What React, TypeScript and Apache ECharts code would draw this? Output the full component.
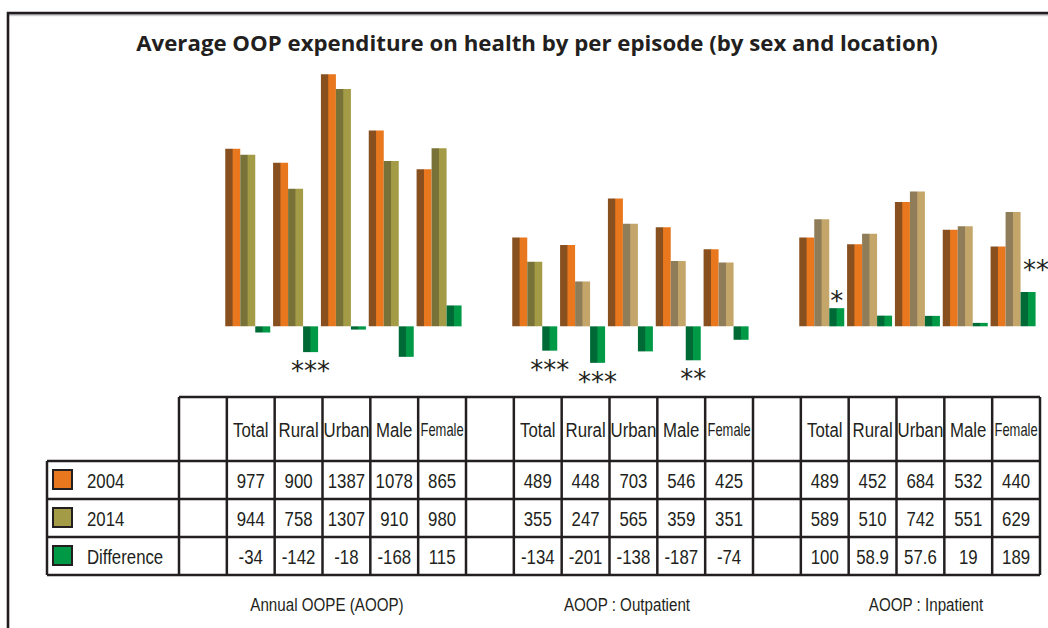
import React, { useEffect, useRef } from 'react';
import * as echarts from 'echarts';

// ---------- data ----------
const TITLE = 'Average OOP expenditure on health by per episode (by sex and location)';
const subgroups = ['Total', 'Rural', 'Urban', 'Male', 'Female'];
const panels = ['Annual OOPE (AOOP)', 'AOOP : Outpatient', 'AOOP : Inpatient'];
const seriesNames = ['2004', '2014', 'Difference'];

const annual2004 = [977, 900, 1387, 1078, 865];
const annual2014 = [944, 758, 1307, 910, 980];
const annualDiff = [-34, -142, -18, -168, 115];
const annualSig = ['', '***', '', '', ''];

const out2004 = [489, 448, 703, 546, 425];
const out2014 = [355, 247, 565, 359, 351];
const outDiff = [-134, -201, -138, -187, -74];
const outSig = ['***', '***', '', '**', ''];

const in2004 = [489, 452, 684, 532, 440];
const in2014 = [589, 510, 742, 551, 629];
const inDiff = [100, 58.9, 57.6, 19, 189];
const inSig = ['*', '', '', '', '**'];

// ---------- styling ----------
const INK = '#231f20';
const ORANGE = ['#88501e', '#e8771d'];
const OLIVE = ['#787238', '#a39b46'];
const TAN = ['#8f7c58', '#c4a66b'];
const GREEN = ['#006a36', '#009a47'];
const NARROW = '"Liberation Sans", Arial, sans-serif';
const SQUEEZE = 0.8;

const grad = (c: string[]) =>
  new echarts.graphic.LinearGradient(0, 0, 1, 0, [
    { offset: 0, color: c[0] },
    { offset: 0.46, color: c[0] },
    { offset: 0.52, color: c[1] },
    { offset: 1, color: c[1] },
  ]);

const GRID_LEFT = 176;
const GRID_W = 861;
const TABLE_LEFT = 179;
const TABLE_W = 861;
const NCOL = 18;

export default function App() {
  const ref = useRef<HTMLDivElement>(null);

  useEffect(() => {
    if (!ref.current) return;
    const chart = echarts.init(ref.current, undefined, { renderer: 'svg' });

    const blocks2004 = [annual2004, out2004, in2004];
    const blocks2014 = [annual2014, out2014, in2014];
    const blocksDiff = [annualDiff, outDiff, inDiff];
    const blocksSig = [annualSig, outSig, inSig];

    const cats: string[] = [];
    const d2004: any[] = [];
    const d2014: any[] = [];
    const dDiff: any[] = [];
    panels.forEach((p, pi) => {
      cats.push(p + '|gap');
      d2004.push('-');
      d2014.push('-');
      dDiff.push('-');
      subgroups.forEach((s, si) => {
        cats.push(p + '|' + s);
        d2004.push(blocks2004[pi][si]);
        const tan = pi > 1 || (pi === 1 && si > 0);
        d2014.push({ value: blocks2014[pi][si], itemStyle: { color: grad(tan ? TAN : OLIVE) } });
        const v = blocksDiff[pi][si];
        const sig = blocksSig[pi][si];
        const lastPos = v > 0 && si === subgroups.length - 1;
        dDiff.push({
          value: v,
          label: {
            show: sig !== '',
            formatter: sig,
            position: v < 0 ? 'bottom' : 'top',
            distance: v < 0 ? 6 : -6,
            offset: lastPos ? [8, -15] : [0, 0],
          },
        });
      });
    });

    const colW = TABLE_W / NCOL;
    const top = 397;
    const rowY = [461, 499, 537, 575];
    const g: any[] = [];

    // frame
    g.push({
      type: 'rect',
      shape: { x: 8, y: 13, width: 1100, height: 700 },
      style: { fill: 'none', stroke: INK, lineWidth: 2.5, shadowColor: 'rgba(0,0,0,0.3)', shadowOffsetY: 1.5 },
      silent: true,
    });
    // title
    g.push({
      type: 'text',
      x: 537,
      y: 43,
      scaleX: 1.06,
      style: {
        text: TITLE,
        fill: INK,
        font: 'bold 21px "Open Sans", sans-serif',
        textAlign: 'center',
        textVerticalAlign: 'middle',
      },
    });

    const line = (x1: number, y1: number, x2: number, y2: number) =>
      g.push({
        type: 'line',
        shape: { x1, y1, x2, y2 },
        style: { stroke: INK, lineWidth: 2.5 },
        silent: true,
      });

    // horizontal lines
    line(TABLE_LEFT, top, TABLE_LEFT + TABLE_W, top);
    rowY.forEach((y) => line(47, y, TABLE_LEFT + TABLE_W, y));
    // vertical lines
    for (let k = 0; k <= NCOL; k++) {
      const x = TABLE_LEFT + k * colW;
      line(x, top, x, rowY[3]);
    }
    line(47, rowY[0], 47, rowY[3]);

    const txt = (text: string, x: number, y: number, size: number, align = 'center', sx = SQUEEZE) =>
      g.push({
        type: 'text',
        x,
        y,
        scaleX: sx,
        style: { text, fill: INK, font: size + 'px ' + NARROW, textAlign: align, textVerticalAlign: 'middle' },
      });

    // header texts
    cats.forEach((c, i) => {
      const name = c.split('|')[1];
      if (name === 'gap') return;
      const female = name === 'Female';
      txt(name, TABLE_LEFT + (i + 0.5) * colW, (top + rowY[0]) / 2 + 1, female ? 17.5 : 21, 'center', female ? 0.74 : SQUEEZE);
    });

    // legend rows & values
    const rowsData = [d2004, d2014, dDiff];
    const swatch = [ORANGE, OLIVE, GREEN];
    seriesNames.forEach((nm, r) => {
      const cy = (rowY[r] + rowY[r + 1]) / 2;
      g.push({
        type: 'rect',
        shape: { x: 53, y: cy - 10, width: 19, height: 19 },
        style: { fill: swatch[r][1], stroke: INK, lineWidth: 2 },
      });
      txt(nm, 87, cy + 1, 21, 'left');
      rowsData[r].forEach((d, i) => {
        if (d === '-') return;
        const v = typeof d === 'object' ? d.value : d;
        txt(String(v), TABLE_LEFT + (i + 0.5) * colW, cy + 1, 21);
      });
    });

    // panel captions
    const capX = [327, 627, 926];
    panels.forEach((p, i) => txt(p, capX[i], 605, 18.5, 'center', 0.82));

    chart.setOption({
      animation: false,
      backgroundColor: '#ffffff',
      grid: { left: GRID_LEFT, width: GRID_W, top: 72, height: 327 },
      xAxis: {
        type: 'category',
        data: cats,
        axisLine: { show: true, onZero: true, lineStyle: { color: '#1a1a1a', width: 2.5, shadowColor: 'rgba(0,0,0,0.35)', shadowOffsetY: 2 } },
        axisTick: { show: false },
        axisLabel: { show: false },
        splitLine: { show: false },
      },
      yAxis: { type: 'value', min: -400, max: 1400, show: false, splitLine: { show: false } },
      series: [
        {
          name: seriesNames[0],
          type: 'bar',
          data: d2004,
          barWidth: 15,
          barGap: '0%',
          itemStyle: { color: grad(ORANGE) },
        },
        {
          name: seriesNames[1],
          type: 'bar',
          data: d2014,
          barWidth: 15,
          barGap: '0%',
          itemStyle: { color: grad(OLIVE) },
        },
        {
          name: seriesNames[2],
          type: 'bar',
          data: dDiff,
          barWidth: 15,
          barGap: '0%',
          itemStyle: { color: grad(GREEN) },
          label: { color: INK, fontSize: 26, fontFamily: '"DejaVu Sans", sans-serif', lineHeight: 26 },
        },
      ],
      graphic: g,
    });

    return () => chart.dispose();
  }, []);

  return <div ref={ref} style={{ position: 'absolute', left: 0, top: 0, width: 1048, height: 628 }} />;
}
